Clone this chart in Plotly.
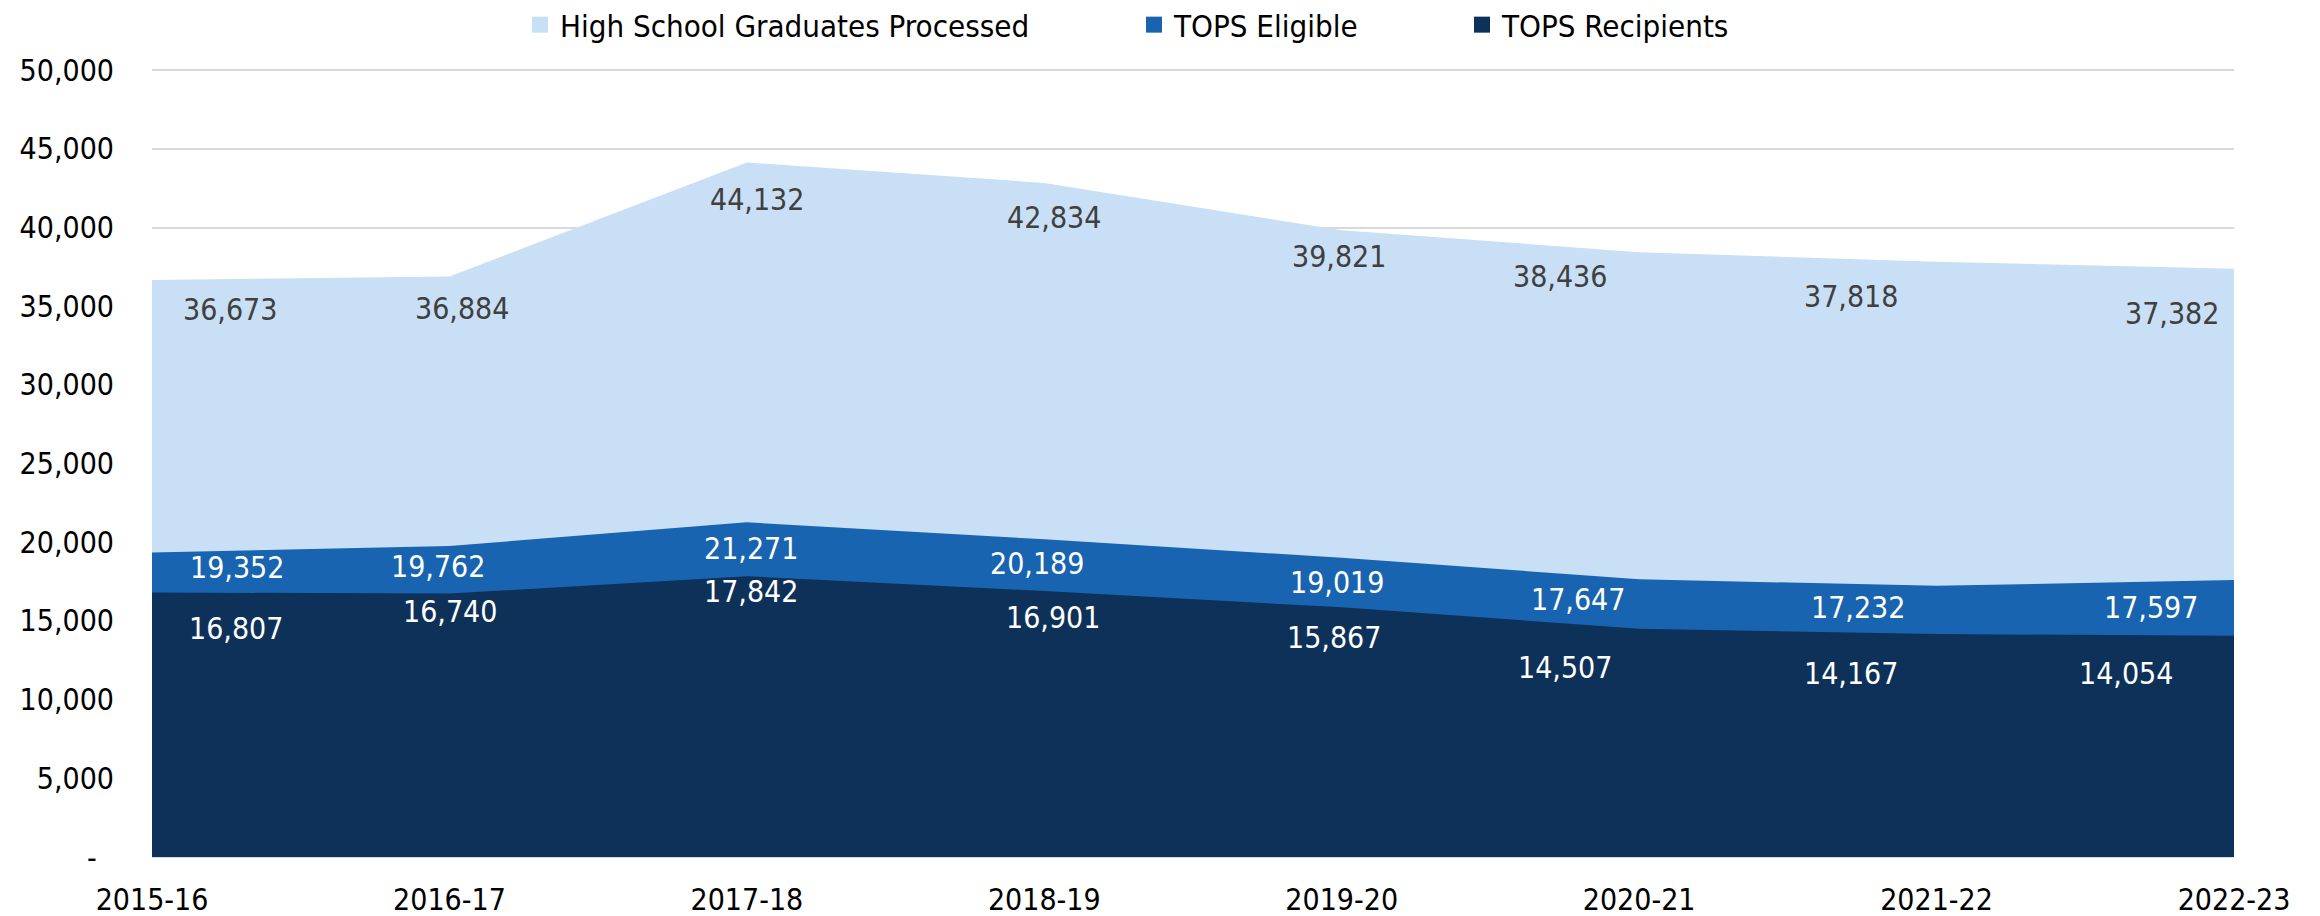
import plotly.graph_objects as go

# ---- data ----
years = ["2015-16", "2016-17", "2017-18", "2018-19", "2019-20", "2020-21", "2021-22", "2022-23"]
hs_graduates = [36673, 36884, 44132, 42834, 39821, 38436, 37818, 37382]
tops_eligible = [19352, 19762, 21271, 20189, 19019, 17647, 17232, 17597]
tops_recipients = [16807, 16740, 17842, 16901, 15867, 14507, 14167, 14054]

y_ticks = [0, 5000, 10000, 15000, 20000, 25000, 30000, 35000, 40000, 45000, 50000]
y_ticktext = ["-\u00a0\u00a0"] + [f"{v:,}" for v in y_ticks[1:]]

# label pixel offsets (dx right, dy down) relative to each data point
hs_dx = [78, 13, 10, 10, -3, -79, -86, -62]
hs_dy = [30, 32, 37, 35, 26, 24, 35, 45]
el_dx = [85, -11, 4, -7, -5, -61, -79, -83]
el_dy = [15, 20, 26, 24, 25, 20, 22, 27]
rc_dx = [84, 1, 4, 9, -8, -74, -86, -108]
rc_dy = [36, 18, 15, 26, 30, 39, 39, 38]

FONT = "DejaVu Sans Condensed, DejaVu Sans, sans-serif"
C_HS = "#C9DFF5"
C_EL = "#1964B0"
C_RC = "#0E3159"

fig = go.Figure()
series = [
    ("High School Graduates Processed", hs_graduates, C_HS),
    ("TOPS Eligible", tops_eligible, C_EL),
    ("TOPS Recipients", tops_recipients, C_RC),
]
for name, vals, col in series:
    fig.add_trace(go.Scatter(
        x=years, y=vals, name=name, mode="none", fill="tozeroy",
        fillcolor=col, showlegend=False, hoverinfo="skip",
    ))

legend_names = ["legend", "legend2", "legend3"]
for (name, vals, col), lg in zip(series, legend_names):
    fig.add_trace(go.Scatter(
        x=[None], y=[None], name=name, mode="markers",
        marker=dict(symbol="square", size=16, color=col),
        legend=lg, showlegend=True,
    ))

annotations = []
for vals, dxs, dys, color in [
    (hs_graduates, hs_dx, hs_dy, "#404040"),
    (tops_eligible, el_dx, el_dy, "#FFFFFF"),
    (tops_recipients, rc_dx, rc_dy, "#FFFFFF"),
]:
    for yr, v, dx, dy in zip(years, vals, dxs, dys):
        annotations.append(dict(
            x=yr, y=v, xref="x", yref="y", text=f"{v:,}", showarrow=False,
            xshift=dx, yshift=-dy, font=dict(family=FONT, size=30, color=color),
            xanchor="center", yanchor="middle",
        ))

legend_common = dict(
    orientation="h", xref="container", yref="container", xanchor="left",
    yanchor="middle", y=1 - 25 / 916, bgcolor="rgba(0,0,0,0)", borderwidth=0,
    font=dict(family=FONT, size=31, color="#000000"),
)
fig.update_layout(
    width=2320, height=916,
    margin=dict(l=152, r=86, t=67, b=59, autoexpand=False),
    paper_bgcolor="white", plot_bgcolor="white",
    font=dict(family=FONT, size=30, color="#000000"),
    annotations=annotations,
    legend=dict(x=520 / 2320, **legend_common),
    legend2=dict(x=1134 / 2320, **legend_common),
    legend3=dict(x=1462 / 2320, **legend_common),
    xaxis=dict(
        type="category", range=[0, len(years) - 1], showgrid=False,
        zeroline=False, showline=False, ticks="outside", ticklen=16,
        tickcolor="rgba(0,0,0,0)", automargin=False,
        tickfont=dict(family=FONT, size=30, color="#000000"),
    ),
    yaxis=dict(
        range=[0, 50200], tickvals=y_ticks, ticktext=y_ticktext,
        showgrid=True, gridcolor="#D9D9D9", gridwidth=2,
        zeroline=True, zerolinecolor="#D9D9D9", zerolinewidth=2,
        showline=False, ticks="outside", ticklen=31, tickcolor="rgba(0,0,0,0)",
        automargin=False,
        tickfont=dict(family=FONT, size=30, color="#000000"),
    ),
)

fig.write_html(
    "out.html",
    config={"displayModeBar": False},
    post_script="document.body.style.margin='0px';",
)
